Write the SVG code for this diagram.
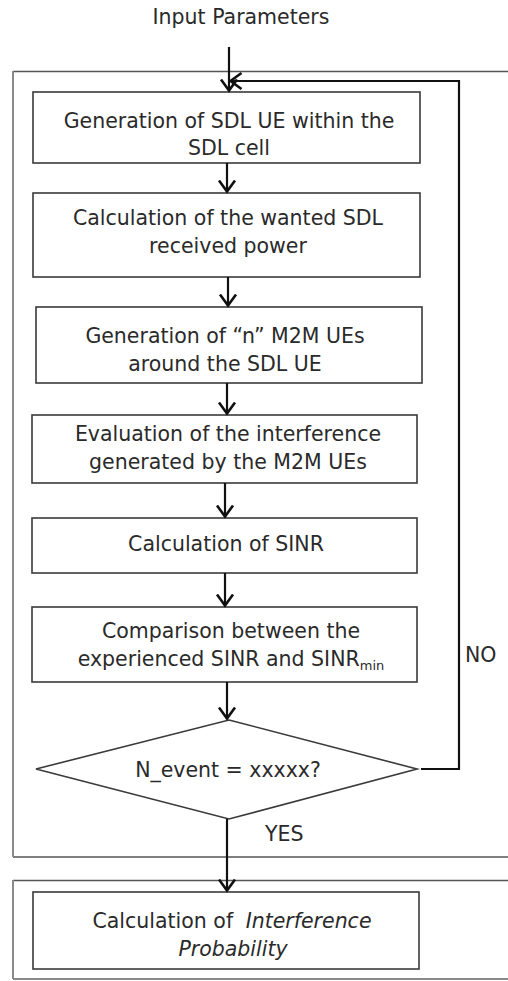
<svg xmlns="http://www.w3.org/2000/svg" width="508" height="981" viewBox="0 0 508 981">
<defs>
<style>
text{font-family:"DejaVu Sans","Verdana",sans-serif;font-size:20.5px;fill:#2a2a2a;text-anchor:middle}
.box{fill:#fff;stroke:#3a3a3a;stroke-width:1.6}
.frame{fill:none;stroke:#555;stroke-width:1.5}
.frameL{fill:none;stroke:#8a8a8a;stroke-width:2}
.con{fill:none;stroke:#111;stroke-width:2.2}
.lbl{text-anchor:start}
</style>
<marker id="ah" viewBox="0 0 14 20" refX="12.5" refY="10" markerWidth="14" markerHeight="20" markerUnits="userSpaceOnUse" orient="auto">
<path d="M1,2 L12,10 L1,18" fill="none" stroke="#111" stroke-width="2.6"/>
</marker>
</defs>
<g id="frames">
<line class="frame" x1="13" y1="71.5" x2="508" y2="71.5"/>
<line class="frame" x1="13" y1="857" x2="508" y2="857"/>
<line class="frameL" x1="13" y1="71" x2="13" y2="857"/>
<line class="frame" x1="13" y1="880.5" x2="508" y2="880.5"/>
<line class="frameL" x1="13" y1="880" x2="13" y2="979"/>
<line class="frameL" x1="13" y1="979" x2="508" y2="979"/>
</g>
<g id="input"><text x="241" y="24">Input Parameters</text></g>
<g id="n1"><rect class="box" x="33" y="92" width="387" height="71"/>
<text x="229" y="128">Generation of SDL UE within the</text><text x="229" y="155">SDL cell</text></g>
<g id="n2"><rect class="box" x="33" y="193" width="387" height="84"/>
<text x="228" y="225">Calculation of the wanted SDL</text><text x="228" y="253">received power</text></g>
<g id="n3"><rect class="box" x="36" y="307" width="386" height="76"/>
<text x="225" y="343">Generation of “n” M2M UEs</text><text x="225" y="371">around the SDL UE</text></g>
<g id="n4"><rect class="box" x="32" y="415" width="385" height="68"/>
<text x="228" y="441">Evaluation of the interference</text><text x="228" y="469">generated by the M2M UEs</text></g>
<g id="n5"><rect class="box" x="32" y="518" width="385" height="55"/>
<text x="226" y="551">Calculation of SINR</text></g>
<g id="n6"><rect class="box" x="32" y="607" width="385" height="75"/>
<text x="231" y="638">Comparison between the</text><text x="231" y="666">experienced SINR and SINR<tspan font-size="13" dy="4">min</tspan></text></g>
<g id="d1"><polygon class="box" points="229,720 417,769 229,819 36,769"/>
<text x="228" y="777">N_event = xxxxx?</text></g>
<g id="n7"><rect class="box" x="33" y="892" width="386" height="77"/>
<text x="232" y="928">Calculation of <tspan dx="6" font-style="italic">Interference</tspan></text><text x="233" y="956" font-style="italic">Probability</text></g>
<g id="connectors">
<line class="con" x1="229" y1="47" x2="229" y2="91" marker-end="url(#ah)"/>
<polyline class="con" points="421,769 459,769 459,81 230,81" marker-end="url(#ah)"/>
<line class="con" x1="227" y1="163" x2="227" y2="192" marker-end="url(#ah)"/>
<line class="con" x1="228" y1="277" x2="228" y2="306" marker-end="url(#ah)"/>
<line class="con" x1="227" y1="383" x2="227" y2="414" marker-end="url(#ah)"/>
<line class="con" x1="225" y1="483" x2="225" y2="517" marker-end="url(#ah)"/>
<line class="con" x1="225" y1="573" x2="225" y2="606" marker-end="url(#ah)"/>
<line class="con" x1="227" y1="682" x2="227" y2="719" marker-end="url(#ah)"/>
<line class="con" x1="227" y1="819" x2="227" y2="891" marker-end="url(#ah)"/>
<text class="lbl" x="465" y="662">NO</text>
<text class="lbl" x="265" y="841">YES</text>
</g>
</svg>
